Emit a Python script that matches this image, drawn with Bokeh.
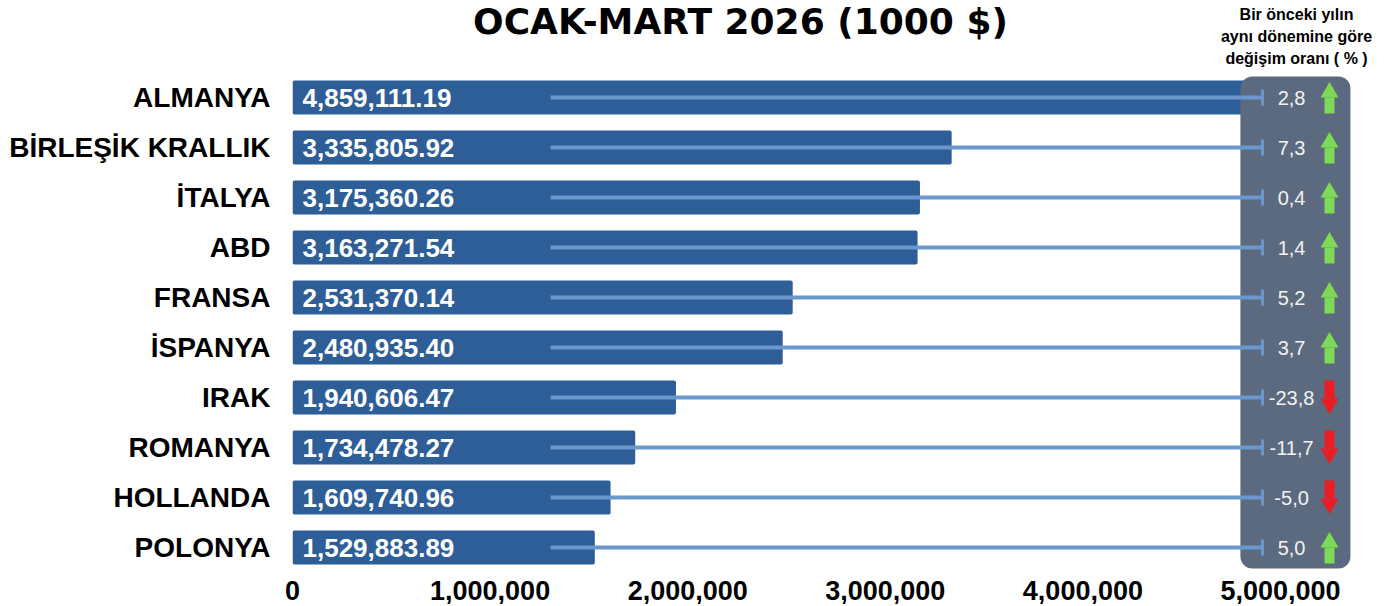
import math
from bokeh.plotting import figure
from bokeh.models import ColumnDataSource, FixedTicker, NumeralTickFormatter
from bokeh.embed import file_html
from bokeh.resources import INLINE
from bokeh.core.properties import value

# ---------------- data ----------------
countries = ["ALMANYA", "BİRLEŞİK KRALLIK", "İTALYA", "ABD", "FRANSA",
             "İSPANYA", "IRAK", "ROMANYA", "HOLLANDA", "POLONYA"]
exports = [4859111.19, 3335805.92, 3175360.26, 3163271.54, 2531370.14,
           2480935.40, 1940606.47, 1734478.27, 1609740.96, 1529883.89]
changes = [2.8, 7.3, 0.4, 1.4, 5.2, 3.7, -23.8, -11.7, -5.0, 5.0]
x_ticks = [0, 1000000, 2000000, 3000000, 4000000, 5000000]
title_text = "OCAK-MART 2026 (1000 $)"
header_lines = ["Bir önceki yılın", "aynı dönemine göre", "değişim oranı ( % )"]

# ---------------- layout constants (data units) ----------------
PX = 50.0                      # pixels per row unit
Y_TOP = 9 + 97 / PX            # top of frame in row units
LINE_START, LINE_END = 1.306e6, 4.909e6
PCT_X, ARROW_X = 5.056e6, 5.248e6
PANEL_L, PANEL_R = 4.797e6, 5.354e6

n = len(countries)
ys = [n - 1 - i for i in range(n)]
bar_labels = [f"{v:,.2f}" for v in exports]
pct_labels = [f"{c:.1f}".replace(".", ",") for c in changes]

src = ColumnDataSource(dict(y=ys, v=exports, lab=bar_labels, pct=pct_labels))

p = figure(width=1380, height=604, x_range=(0, 5.506e6), y_range=(-0.54, Y_TOP),
           output_backend="svg", toolbar_location=None,
           min_border_left=292, min_border_right=0, min_border_top=0,
           min_border_bottom=30)
p.outline_line_color = None
p.grid.visible = False

# bars
p.hbar(y="y", left=0, right="v", height=0.68, source=src,
       fill_color="#2e5e97", line_color=None, border_radius=2)

# panel
p.quad(left=[PANEL_L], right=[PANEL_R], top=[9 + 21 / PX], bottom=[-21 / PX],
       fill_color="#5b6a7f", line_color=None, border_radius=12)

# connector lines with end caps
p.segment(x0=LINE_START, x1=LINE_END, y0="y", y1="y", source=src,
          line_color="#6b98cc", line_width=4)
p.scatter(x=LINE_END, y="y", source=src, marker="dash", size=16,
          angle=math.pi / 2, line_color="#6b98cc", line_width=3)

# bar value labels
p.text(x=0, y="y", text="lab", source=src, x_offset=10,
       text_align="left", text_baseline="middle", text_color="white",
       text_font=value("Liberation Sans"), text_font_style="bold",
       text_font_size="26px")

# percentage labels
p.text(x=PCT_X, y="y", text="pct", source=src, text_align="center",
       text_baseline="middle", text_color="#f2f2f2",
       text_font=value("Liberation Sans"), text_font_size="20px")

# arrows
up_y = [y for y, c in zip(ys, changes) if c >= 0]
dn_y = [y for y, c in zip(ys, changes) if c < 0]
GREEN, RED = "#7ed957", "#ec1c24"
p.rect(x=ARROW_X, y=[y - 8 / PX for y in up_y], width=10, height=16,
       width_units="screen", height_units="screen", fill_color=GREEN, line_color=None)
p.scatter(x=ARROW_X, y=[y + 5.2 / PX for y in up_y], marker="triangle", size=18,
          fill_color=GREEN, line_color=None)
p.rect(x=ARROW_X, y=[y + 8 / PX for y in dn_y], width=10, height=18,
       width_units="screen", height_units="screen", fill_color=RED, line_color=None)
p.scatter(x=ARROW_X, y=[y - 6.2 / PX for y in dn_y], marker="inverted_triangle", size=18,
          fill_color=RED, line_color=None)

# title and header
p.text(x=[2.267e6], y=[Y_TOP - 21 / PX], text=[title_text], text_align="center",
       text_baseline="middle", text_color="black", text_font=value("DejaVu Sans"),
       text_font_style="bold", text_font_size="36px")
p.text(x=[5.081e6] * 3, y=[Y_TOP - 14 / PX, Y_TOP - 36 / PX, Y_TOP - 58 / PX],
       text=header_lines, text_align="center", text_baseline="middle",
       text_color="black", text_font=value("Liberation Sans"),
       text_font_style="bold", text_font_size="16px")

# axes
xa = p.xaxis[0]
xa.ticker = FixedTicker(ticks=x_ticks)
xa.formatter = NumeralTickFormatter(format="0,0")
xa.axis_line_color = None
xa.major_tick_line_color = None
xa.minor_tick_line_color = None
xa.major_label_standoff = 0
xa.major_label_text_font = "Liberation Sans"
xa.major_label_text_font_style = "bold"
xa.major_label_text_font_size = "27px"
xa.major_label_text_color = "black"

ya = p.yaxis[0]
ya.ticker = FixedTicker(ticks=ys)
ya.major_label_overrides = {y: c for y, c in zip(ys, countries)}
ya.axis_line_color = None
ya.major_tick_line_color = None
ya.minor_tick_line_color = None
ya.major_label_standoff = 16
ya.major_label_text_font = "Liberation Sans"
ya.major_label_text_font_style = "bold"
ya.major_label_text_font_size = "28px"
ya.major_label_text_color = "black"

open("out.html", "w").write(file_html(p, INLINE))
